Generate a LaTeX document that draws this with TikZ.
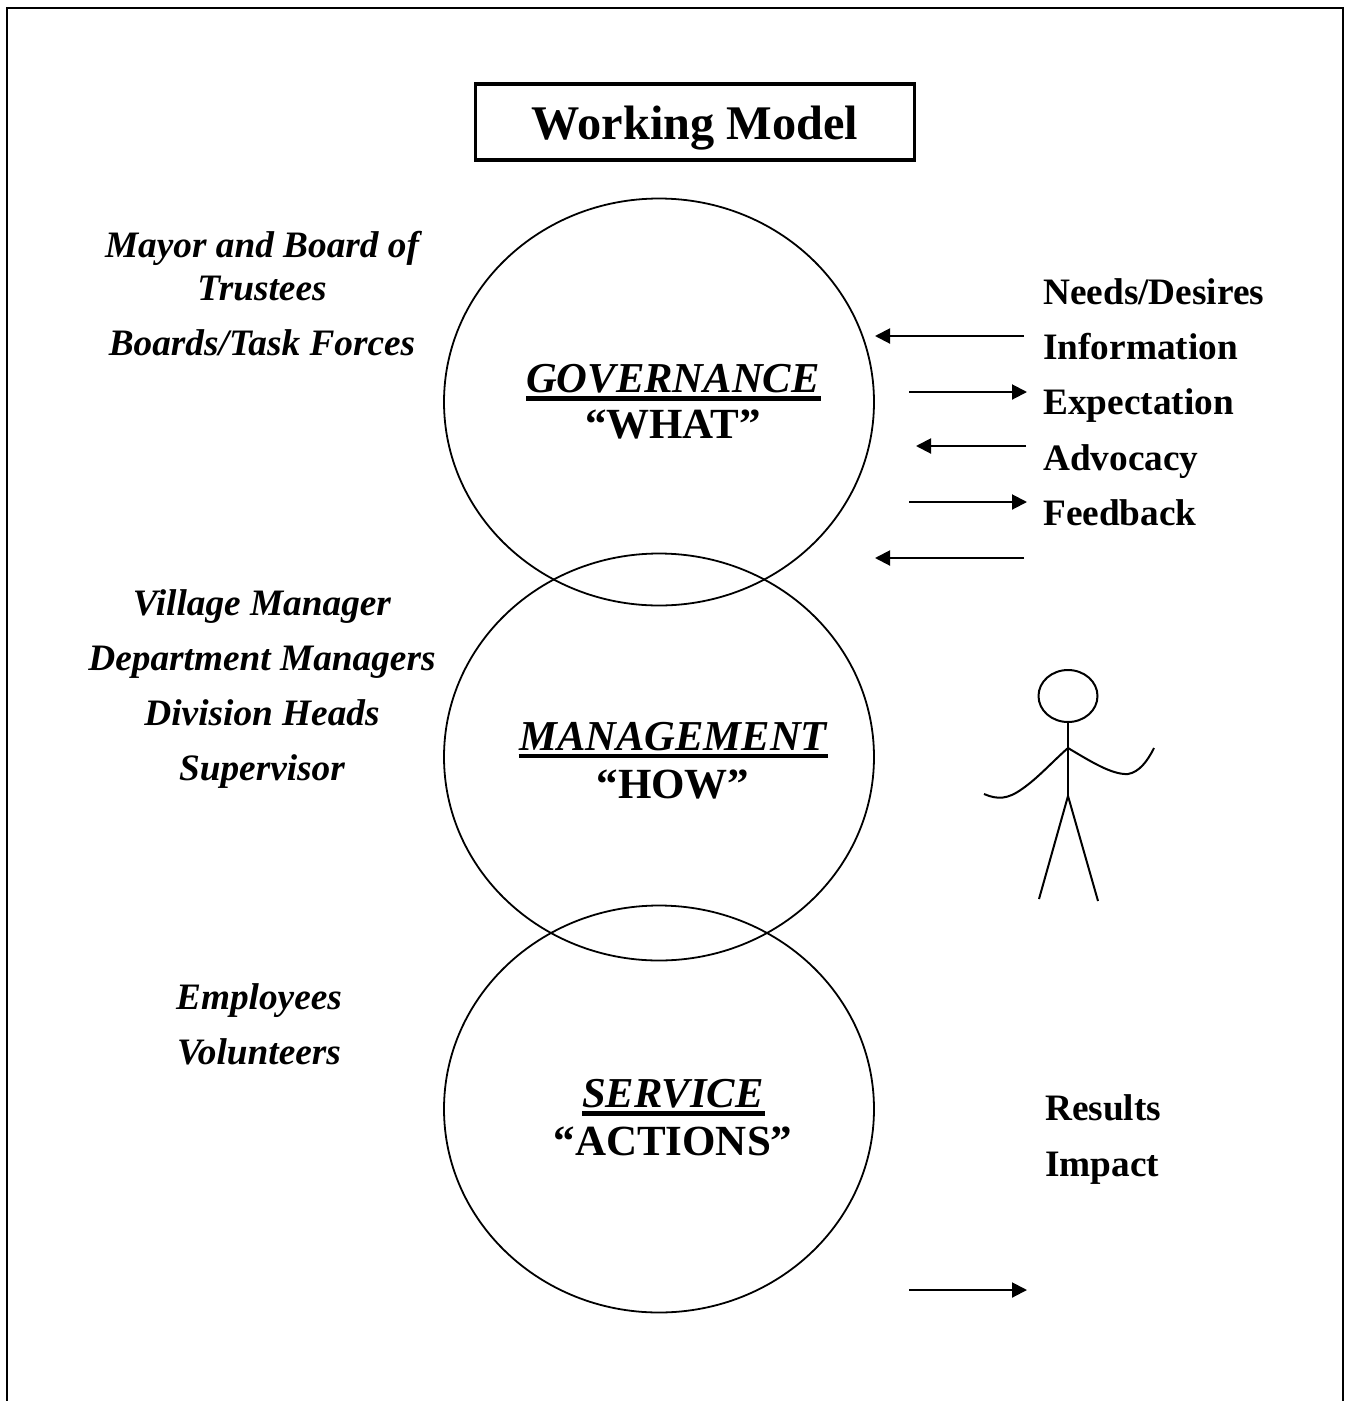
\documentclass[tikz,border=0pt]{standalone}
\usepackage{fontspec}
\setmainfont{Liberation Serif}
\usetikzlibrary{arrows.meta,shapes.geometric}
\tikzset{
 x=1pt,y=-1pt,
 circ/.style={draw,ellipse,line width=1.8pt,minimum width=430pt,minimum height=407pt,inner sep=0pt},
 arr/.style={line width=2pt,-{Triangle[length=15pt,width=15pt]}},
 ital/.style={font=\fontsize{37.3}{37.3}\selectfont\bfseries\itshape,anchor=base,inner sep=0pt},
 bld/.style={font=\fontsize{37.3}{37.3}\selectfont\bfseries,anchor=base west,inner sep=0pt},
 headi/.style={font=\fontsize{42.6}{42.6}\selectfont\bfseries\itshape,anchor=base,inner sep=0pt},
 headb/.style={font=\fontsize{43}{43}\selectfont\bfseries,anchor=base,inner sep=0pt},
 fig/.style={line width=2pt},
 uline/.style={line width=4.6pt},
}
\begin{document}
\begin{tikzpicture}
\useasboundingbox (0,0) rectangle (1351,1401);
\fill[white] (0,0) rectangle (1351,1401);
\draw[line width=2pt] (7,1401) -- (7,8) -- (1343,8) -- (1343,1401);
\node[draw,line width=3.5pt,minimum width=439pt,minimum height=76pt,inner sep=0pt] (title) at (695,122) {};
\node[font=\fontsize{48.3}{48.3}\selectfont\bfseries,anchor=base,inner sep=0pt] (titlet) at (695,139.5) {Working Model};
\node[circ] (gov) at (659,402) {};
\node[circ] (man) at (659,757) {};
\node[circ] (ser) at (659,1109) {};
\node[headi] (g1) at (673,392) {GOVERNANCE};
\node[headb] (g2) at (673,438) {“WHAT”};
\node[headi] (m1) at (673,750) {MANAGEMENT};
\node[headb] (m2) at (673,798) {“HOW”};
\node[headi] (s1) at (673,1107) {SERVICE};
\node[headb] (s2) at (673,1155.5) {“ACTIONS”};
\draw[uline] (g1.base west)++(0,6.5) -- ++(295,0);
\draw[uline] (m1.base west)++(0,6) -- ++(309,0);
\draw[uline] (s1.base west)++(0,6.3) -- ++(183,0);
\node[ital] (l1) at (262,257) {Mayor and Board of};
\node[ital] (l2) at (262,300) {Trustees};
\node[ital] (l3) at (262,355) {Boards/Task Forces};
\node[ital] (l4) at (262,615) {Village Manager};
\node[ital] (l5) at (262,670) {Department Managers};
\node[ital] (l6) at (262,725) {Division Heads};
\node[ital] (l7) at (262,780) {Supervisor};
\node[ital] (l8) at (259,1009) {Employees};
\node[ital] (l9) at (259,1064) {Volunteers};
\node[bld] (r1) at (1043,304) {Needs/Desires};
\node[bld] (r2) at (1043,359) {Information};
\node[bld] (r3) at (1043,414) {Expectation};
\node[bld] (r4) at (1043,470) {Advocacy};
\node[bld] (r5) at (1043,525) {Feedback};
\node[bld] (r6) at (1045,1120) {Results};
\node[bld] (r7) at (1045,1176) {Impact};
\coordinate (a1s) at (1024,336); \coordinate (a1e) at (875,336);
\coordinate (a2s) at (909,392); \coordinate (a2e) at (1027,392);
\coordinate (a3s) at (1026,446); \coordinate (a3e) at (916,446);
\coordinate (a4s) at (909,502); \coordinate (a4e) at (1027,502);
\coordinate (a5s) at (1024,558); \coordinate (a5e) at (875,558);
\coordinate (a6s) at (909,1290); \coordinate (a6e) at (1027,1290);
\foreach \n in {1,...,6} \draw[arr] (a\n s) -- (a\n e);
\draw[fig] (1068,696) ellipse [x radius=29.5pt,y radius=26pt];
\draw[fig] (1068,722) -- (1068,800);
\draw[fig] (1068,796) -- (1039,899);
\draw[fig] (1068,796) -- (1098,901);
\draw[fig] (984,794) .. controls (998,800) and (1008,799) .. (1022,789) .. controls (1038,778) and (1052,762) .. (1068,748) .. controls (1090,761) and (1112,775) .. (1128,774) .. controls (1139,772) and (1147,762) .. (1154,748);
\end{tikzpicture}
\end{document}
